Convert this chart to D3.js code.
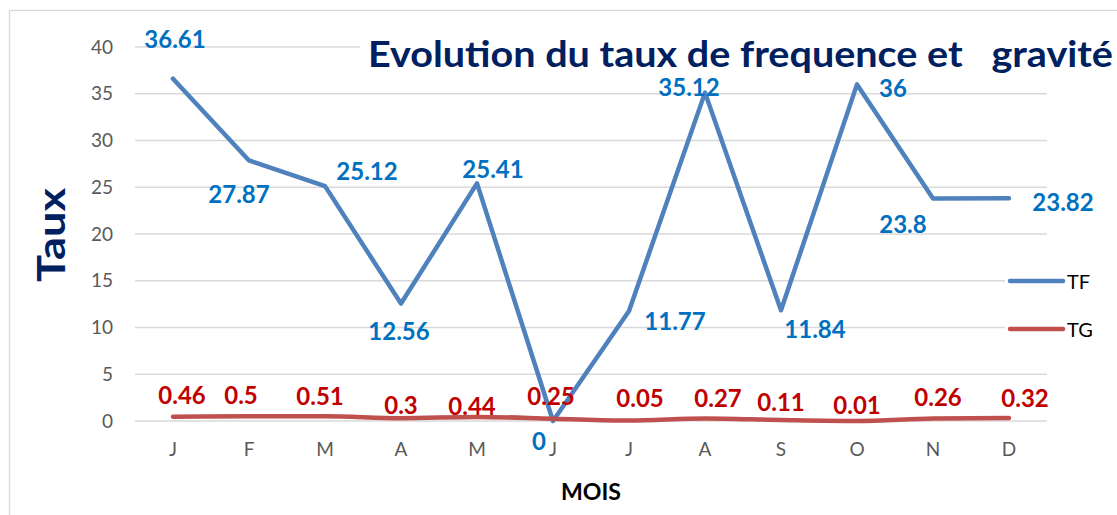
<!DOCTYPE html>
<html><head><meta charset="utf-8">
<script src="https://cdn.jsdelivr.net/npm/d3@7"></script>
<style>body{margin:0;background:#fff}svg{display:block}</style>
</head><body>
<svg id="c" width="1117" height="515"></svg>
<script>
const months = ["J","F","M","A","M","J","J","A","S","O","N","D"];
const tf = [36.61,27.87,25.12,12.56,25.41,0,11.77,35.12,11.84,36,23.8,23.82];
const tg = [0.46,0.5,0.51,0.3,0.44,0.25,0.05,0.27,0.11,0.01,0.26,0.32];
const yTicks = [0,5,10,15,20,25,30,35,40];
const seriesNames = ["TF","TG"];
const titleText = "Evolution du taux de frequence et\u00a0\u00a0\u00a0gravit\u00e9";

// label placement offsets (layout only)
const tfOff = [[2,-40],[-10,33],[42,-16],[-2,27],[16,-15],[-14,19],[46,10],[-16,-6],[34,18],[36,3],[-30,25],[54,3]];
const tgOff = [[9,-22],[-8,-22],[-5,-21],[0,-14],[-5,-11],[-2,-23],[11,-23],[13,-21],[0,-18],[0,-16],[5,-22],[16,-21]];

const svg = d3.select("#c");
const F = "Lato, 'Open Sans', sans-serif";
const idx = months.map((d,i)=>i);
const x = d3.scaleBand().domain(idx).range([135,1047]).padding(0);
const cx = i => x(i) + x.bandwidth()/2;
const y = d3.scaleLinear().domain([0,40]).range([421,47]);

// border
svg.append("rect").attr("x",9.5).attr("y",10.5).attr("width",1130).attr("height",520)
  .attr("fill","none").attr("stroke","#d9d9d9").attr("stroke-width",1.3);

// gridlines
svg.append("g").selectAll("line").data(yTicks).join("line")
  .attr("x1",135).attr("x2",1047).attr("y1",d=>y(d)).attr("y2",d=>y(d))
  .attr("stroke","#d9d9d9").attr("stroke-width",1.5);

// y axis
const ya = svg.append("g").attr("transform","translate(113,0)")
  .call(d3.axisLeft(y).tickValues(yTicks).tickSize(0).tickPadding(0));
ya.select(".domain").remove();
ya.selectAll("text").attr("font-family",F).attr("font-size",19).attr("fill","#595959");

// x axis
const xa = svg.append("g").attr("transform","translate(0,442)")
  .call(d3.axisBottom(x).tickFormat(i=>months[i]).tickSize(0).tickPadding(0));
xa.select(".domain").remove();
xa.selectAll("text").attr("font-family",F).attr("font-size",19).attr("fill","#595959");

// axis titles
svg.append("text").attr("x",591).attr("y",500).attr("text-anchor","middle")
  .attr("font-family",F).attr("font-weight","bold").attr("font-size",22).attr("fill","#000")
  .attr("textLength",60).attr("lengthAdjust","spacingAndGlyphs").text("MOIS");
svg.append("text").attr("transform","translate(65,235) rotate(-90)").attr("text-anchor","middle")
  .attr("font-family",F).attr("font-weight","bold").attr("font-size",39).attr("fill","#002060")
  .attr("textLength",94).attr("lengthAdjust","spacingAndGlyphs").text("Taux");

// lines
const line = arr => d3.line().x((d,i)=>cx(i)).y(d=>y(d))(arr);
svg.append("path").attr("d",line(tf)).attr("fill","none").attr("stroke","#4f81bd")
  .attr("stroke-width",4.5).attr("stroke-linejoin","round").attr("stroke-linecap","round");
svg.append("path").attr("d",d3.line().x((d,i)=>cx(i)).y(d=>y(d)).curve(d3.curveMonotoneX)(tg))
  .attr("fill","none").attr("stroke","#c0504d")
  .attr("stroke-width",4.5).attr("stroke-linejoin","round").attr("stroke-linecap","round");

// title with white background
const tgTitle = svg.append("g");
const bg = tgTitle.append("rect").attr("fill","#fff");
tgTitle.append("text").attr("x",368).attr("y",67)
  .attr("font-family",F).attr("font-weight","bold").attr("font-size",36).attr("fill","#002060")
  .attr("textLength",745).attr("lengthAdjust","spacingAndGlyphs").text(titleText);
bg.attr("x",360).attr("y",34).attr("width",760).attr("height",40);

// data labels
svg.append("g").selectAll("text").data(tf).join("text")
  .attr("x",(d,i)=>cx(i)+tfOff[i][0]).attr("y",(d,i)=>y(d)+tfOff[i][1])
  .attr("text-anchor","middle").attr("dominant-baseline","central")
  .attr("font-family",F).attr("font-weight","bold").attr("font-size",24).attr("fill","#0070c0")
  .text(d=>d);
svg.append("g").selectAll("text").data(tg).join("text")
  .attr("x",(d,i)=>cx(i)+tgOff[i][0]).attr("y",(d,i)=>y(d)+tgOff[i][1])
  .attr("text-anchor","middle").attr("dominant-baseline","central")
  .attr("font-family",F).attr("font-weight","bold").attr("font-size",24).attr("fill","#c00000")
  .text(d=>d);

// legend
const colors = ["#4f81bd","#c0504d"];
const lg = svg.append("g").selectAll("g").data(seriesNames).join("g")
  .attr("transform",(d,i)=>`translate(1008,${281+i*48})`);
lg.append("rect").attr("x",-3).attr("y",-6).attr("width",61).attr("height",12).attr("fill","#fff");
lg.append("line").attr("x1",2).attr("x2",55).attr("stroke",(d,i)=>colors[i])
  .attr("stroke-width",4.5).attr("stroke-linecap","round");
lg.append("text").attr("x",59).attr("dominant-baseline","central")
  .attr("font-family",F).attr("font-size",20).attr("fill","#000").text(d=>d);
</script>
</body></html>
